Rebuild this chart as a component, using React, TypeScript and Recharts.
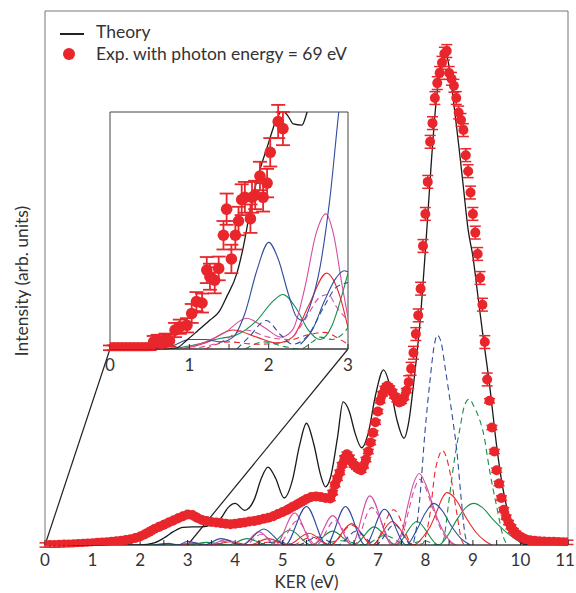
import React from 'react';
import {
  ComposedChart,
  Line,
  Scatter,
  XAxis,
  YAxis,
  ErrorBar,
  ReferenceArea,
  ReferenceLine,
} from 'recharts';

const FONT = 'Lato, "Open Sans", sans-serif';
const BLUE = '#2f4c9e';
const MAGENTA = '#d2509f';
const RED = '#e8262b';
const GREEN = '#13904a';
const DOT = '#e8262b';

// ---- main panel (KER 0-11 eV, intensity in arbitrary units 0-100) ----
const mainTicks = [0, 0.5, 1, 1.5, 2, 2.5, 3, 3.5, 4, 4.5, 5, 5.5, 6, 6.5, 7, 7.5, 8, 8.5, 9, 9.5, 10, 10.5, 11];

const theory = [
  [0, 0], [2.0, 0], [2.3, 0.4], [2.5, 1.3], [2.7, 2.5], [2.9, 3.3], [3.1, 3.4], [3.3, 3.4], [3.5, 3.8],
  [3.7, 5.0], [3.85, 7.0], [4.0, 7.8], [4.2, 6.5], [4.4, 8.5], [4.55, 12.5], [4.69, 14.6], [4.85, 12.5],
  [5.03, 8.8], [5.2, 12], [5.35, 18.5], [5.5, 22.8], [5.65, 19], [5.8, 13], [5.9, 10.9], [6.0, 12.5],
  [6.15, 20], [6.27, 26.8], [6.4, 25], [6.52, 21], [6.66, 18.2], [6.8, 21], [6.95, 28], [7.12, 32.8],
  [7.25, 30], [7.4, 23.5], [7.55, 20], [7.65, 23], [7.75, 30], [7.89, 42], [8.03, 59], [8.12, 71],
  [8.22, 82.4], [8.32, 89.5], [8.4, 92.3], [8.48, 90.5], [8.58, 84], [8.7, 75], [8.8, 67], [8.9, 59],
  [9.0, 54], [9.1, 47], [9.2, 40], [9.35, 30], [9.5, 18.5], [9.6, 12.2], [9.7, 7.5], [9.8, 4], [9.9, 1.8],
  [10.0, 0.5], [10.15, 0], [11, 0],
];

const blueSolid = [
  [2.3, 0], [2.6, 0.3], [2.8, 0], [3.0, 0.7], [3.35, 0], [3.7, 1.2], [4.15, 0], [4.6, 3.0], [5.05, 0],
  [5.5, 7.2], [5.92, 0], [6.32, 7.2], [6.73, 0], [7.14, 6.7], [7.6, 0], [7.8, 2.5], [8.0, 6.0], [8.18, 7.8],
  [8.35, 6.5], [8.55, 3.5], [8.75, 1.2], [8.95, 0],
];
const blueDashed = [
  [4.5, 0], [4.9, 0.6], [5.3, 0], [5.75, 1.5], [6.15, 0], [6.55, 2.6], [6.95, 0], [7.35, 3.8], [7.72, 0],
  [7.8, 2.5], [7.88, 8.4], [7.99, 21], [8.1, 31], [8.18, 37], [8.25, 39.3], [8.33, 38], [8.42, 33],
  [8.52, 27], [8.6, 22], [8.66, 17.8], [8.75, 9], [8.83, 2.2], [8.9, 0],
];
const redSolid = [
  [2.8, 0], [3.2, 0.3], [3.5, 0], [3.9, 0.6], [4.3, 0], [4.7, 1.2], [5.1, 0], [5.55, 2.2], [6.0, 0],
  [6.45, 4.0], [6.88, 0], [7.3, 4.4], [7.75, 0], [7.95, 1.5], [8.1, 3.4], [8.25, 6.5], [8.35, 8.7],
  [8.45, 9.8], [8.55, 9.4], [8.68, 8.0], [8.8, 6.0], [8.95, 3.8], [9.08, 2.2], [9.25, 0.8], [9.4, 0],
];
const redDashed = [
  [4.4, 0], [4.8, 0.6], [5.2, 0], [5.6, 1.5], [6.0, 0], [6.45, 3.7], [6.9, 0], [7.33, 6.6], [7.75, 0],
  [7.95, 0.3], [8.0, 1.5], [8.1, 6], [8.2, 13.5], [8.28, 16.5], [8.36, 17.7], [8.44, 16.5], [8.52, 13.5],
  [8.66, 6], [8.76, 1], [8.82, 0],
];
const magentaSolid = [
  [2.8, 0], [3.1, 0.4], [3.45, 0], [3.8, 1.0], [4.15, 0], [4.5, 2.5], [4.85, 0], [5.25, 6.0], [5.65, 0],
  [6.05, 5.5], [6.45, 0], [6.83, 9.2], [7.3, 0], [7.5, 2.2], [7.62, 7], [7.75, 11.5], [7.87, 13.4],
  [8.0, 11.5], [8.12, 8.5], [8.25, 5], [8.4, 2.2], [8.55, 0.5], [8.65, 0],
];
const magentaDashed = [
  [3.5, 0], [3.85, 0.7], [4.2, 0], [4.55, 2.0], [4.9, 0], [5.3, 4.5], [5.7, 0], [6.1, 4.6], [6.5, 0],
  [6.87, 7.0], [7.35, 0], [7.52, 2.0], [7.65, 6.5], [7.77, 10.5], [7.88, 12.3], [8.0, 10.8], [8.12, 7.8],
  [8.25, 4.5], [8.4, 1.8], [8.55, 0.3], [8.65, 0],
];
const greenSolid = [
  [2.2, 0], [2.6, 0.2], [3.0, 0], [3.4, 0.5], [3.85, 0], [4.25, 1.2], [4.7, 0], [5.15, 2.8], [5.6, 0],
  [6.05, 2.6], [6.5, 0], [6.92, 3.4], [7.38, 0], [7.82, 4.4], [8.28, 0], [8.45, 1.5], [8.66, 4.7],
  [8.85, 7.0], [9.02, 7.8], [9.2, 7.0], [9.43, 4.7], [9.65, 2.8], [9.88, 1.2], [10.05, 0.3], [10.2, 0],
];
const greenDashed = [
  [5.8, 0], [6.25, 0.8], [6.7, 0], [7.15, 1.8], [7.6, 0], [7.95, 0.8], [8.3, 0], [8.38, 0.9], [8.48, 7.2],
  [8.59, 14.7], [8.73, 22], [8.82, 26], [8.92, 27.3], [9.02, 26], [9.12, 24], [9.22, 21], [9.36, 13.5],
  [9.5, 7.2], [9.64, 1.5], [9.72, 0],
];

// experiment, photon energy 69 eV
const expMain = [
  [0, 0], [0.1, 0], [0.2, 0], [0.3, 0.05], [0.4, 0.1], [0.5, 0.1], [0.6, 0.15], [0.7, 0.2], [0.8, 0.25],
  [0.9, 0.3], [1.0, 0.35], [1.1, 0.4], [1.2, 0.45], [1.3, 0.5], [1.4, 0.6], [1.5, 0.7], [1.6, 0.8],
  [1.7, 0.95], [1.8, 1.1], [1.9, 1.3], [2.0, 1.6], [2.1, 2.0], [2.2, 2.5], [2.3, 3.0], [2.4, 3.4],
  [2.5, 3.8], [2.6, 4.2], [2.7, 4.6], [2.8, 5.0], [2.9, 5.4], [3.0, 5.7], [3.1, 5.6], [3.2, 5.1],
  [3.3, 4.7], [3.4, 4.5], [3.5, 4.3], [3.6, 4.2], [3.7, 4.1], [3.8, 4.0], [3.9, 3.9], [4.0, 4.0],
  [4.1, 4.1], [4.2, 4.2], [4.3, 4.4], [4.4, 4.5], [4.5, 4.7], [4.6, 4.9], [4.7, 5.1], [4.8, 5.4],
  [4.9, 5.8], [5.0, 6.2], [5.1, 6.6], [5.2, 7.1], [5.3, 7.6], [5.4, 8.1], [5.5, 8.6], [5.6, 9.0],
  [5.7, 9.1], [5.8, 9.0], [5.9, 8.8], [6.0, 8.7], [6.05, 9.8], [6.1, 11.3], [6.15, 12.5], [6.2, 13.6],
  [6.25, 15.0], [6.3, 16.3], [6.35, 17.0], [6.4, 16.4], [6.45, 15.6], [6.5, 15.0], [6.55, 14.6],
  [6.6, 14.2], [6.65, 14.0], [6.7, 14.8], [6.75, 16.0], [6.8, 17.5], [6.85, 19.2], [6.9, 21.0],
  [6.95, 23.0], [7.0, 25.0], [7.05, 27.0], [7.1, 28.3], [7.15, 29.3], [7.2, 29.8], [7.25, 29.4],
  [7.3, 28.7], [7.35, 27.9], [7.4, 27.2], [7.45, 26.7], [7.5, 26.9], [7.55, 27.6], [7.6, 28.9],
  [7.65, 30.5], [7.7, 33.0], [7.75, 36.0], [7.8, 39.5], [7.85, 43.0], [7.9, 48.0], [7.95, 56.0],
  [8.0, 62.0], [8.05, 68.0], [8.1, 75.5], [8.15, 79.0], [8.2, 83.7], [8.25, 86.5], [8.3, 88.4],
  [8.35, 90.3], [8.4, 92.0], [8.45, 92.5], [8.5, 88.4], [8.55, 87.3], [8.6, 86.0], [8.65, 83.7],
  [8.7, 81.0], [8.75, 79.6], [8.8, 77.7], [8.85, 73.0], [8.9, 70.0], [8.95, 66.0], [9.0, 62.0],
  [9.05, 58.5], [9.1, 54.5], [9.15, 50.0], [9.2, 45.0], [9.25, 38.0], [9.3, 31.0], [9.35, 27.0],
  [9.4, 22.0], [9.45, 17.5], [9.5, 14.0], [9.55, 11.5], [9.6, 8.8], [9.65, 6.6], [9.7, 5.2], [9.75, 4.2],
  [9.8, 3.4], [9.85, 2.7], [9.9, 2.2], [9.95, 1.8], [10.0, 1.5], [10.05, 1.3], [10.1, 1.1], [10.2, 0.9],
  [10.3, 0.8], [10.4, 0.7], [10.5, 0.65], [10.6, 0.6], [10.7, 0.6], [10.8, 0.55], [10.9, 0.5], [11.0, 0.5],
];
// error bars stick out of the dots only on the big peak
const expErrLow = 0.4;
const expErrHigh = 1.2;

// ---- inset (KER 0-3 eV, magnified) ----
const insetTicks = [0, 0.5, 1, 1.5, 2, 2.5, 3];

const insetTheory = [
  [0, 0], [0.6, 0], [0.84, 0.05], [0.97, 0.38], [1.1, 0.75], [1.26, 1.22], [1.38, 1.6], [1.47, 2.2],
  [1.6, 3.2], [1.68, 4.3], [1.77, 5.9], [1.85, 7.1], [1.98, 8.5], [2.1, 9.7], [2.17, 10.05], [2.24, 9.85],
  [2.31, 9.5], [2.42, 9.45], [2.48, 9.95], [2.55, 10.8], [2.7, 13], [3, 16],
];
const insetBlueSolid = [
  [0.6, 0], [0.8, 0.15], [1.0, 0.4], [1.2, 0.4], [1.4, 0.3], [1.55, 0.5], [1.7, 1.5], [1.85, 3.3], [2.0, 4.5],
  [2.12, 3.8], [2.25, 2.3], [2.35, 1.36], [2.43, 1.2], [2.52, 1.8], [2.65, 3.5], [2.77, 6.3], [2.9, 10.5], [3, 13],
];
const insetBlueSolid2 = [[2.4, 0.2], [2.55, 0.8], [2.7, 2.0], [2.85, 3.0], [2.95, 3.3], [3, 3.25]];
const insetBlueDashed = [
  [1.6, 0], [1.75, 0.5], [1.97, 1.2], [2.15, 0.6], [2.3, 0.2], [2.5, 0.6], [2.7, 1.8], [2.85, 2.6], [3, 2.8],
];
const insetMagentaSolid = [
  [0.9, 0], [1.2, 0.3], [1.45, 0.7], [1.72, 1.3], [1.95, 0.9], [2.15, 0.5], [2.3, 0.8], [2.45, 2.5],
  [2.6, 4.9], [2.72, 5.7], [2.82, 4.8], [2.92, 2.8], [3, 1.3],
];
const insetMagentaDashed = [
  [1.0, 0], [1.4, 0.3], [1.7, 0.8], [2.0, 0.5], [2.25, 0.4], [2.45, 1.2], [2.65, 2.2], [2.75, 2.3], [2.85, 1.8], [3, 1.2],
];
const insetRedSolid = [
  [0.9, 0], [1.2, 0.25], [1.55, 0.8], [1.85, 0.5], [2.1, 0.25], [2.3, 0.5], [2.5, 1.8], [2.73, 3.2], [2.9, 2.2], [3, 0.9],
];
const insetRedDashed = [
  [1.2, 0], [1.5, 0.3], [1.85, 0.2], [2.2, 0.3], [2.5, 0.6], [2.7, 0.7], [2.9, 0.4], [3, 0.2],
];
const insetGreenSolid = [
  [0.8, 0], [1.1, 0.2], [1.4, 0.45], [1.6, 0.6], [1.85, 1.2], [2.05, 2.0], [2.18, 2.3], [2.35, 1.7],
  [2.5, 0.8], [2.65, 0.4], [2.8, 1.0], [2.9, 2.0], [3, 3.2],
];
const insetGreenDashed = [
  [1.7, 0], [1.95, 0.3], [2.2, 0.1], [2.4, 0], [2.55, 0.3], [2.65, 0.5], [2.8, 0.4], [2.95, 0.7], [3, 0.9],
];

const insetExpX = [
  0, 0.05, 0.1, 0.15, 0.2, 0.25, 0.3, 0.35, 0.4, 0.45, 0.5, 0.55, 0.6, 0.65, 0.7, 0.75, 0.82, 0.88, 0.97,
  1.03, 1.09, 1.16, 1.22, 1.26, 1.32, 1.37, 1.43, 1.47, 1.53, 1.58, 1.62, 1.66, 1.7, 1.77, 1.79, 1.83,
  1.89, 1.93, 1.98, 2.02, 2.12, 2.18,
];
const insetExpY = [
  0.05, 0.05, 0.05, 0.05, 0.05, 0.05, 0.05, 0.05, 0.05, 0.05, 0.05, 0.3, 0.35, 0.25, 0.4, 0.35, 0.8, 0.94, 1.0,
  1.5, 2.0, 1.94, 3.33, 3.05, 2.9, 3.4, 4.8, 5.9, 3.8, 4.8, 5.4, 6.3, 6.4, 5.5, 6.4, 6.5,
  7.3, 6.4, 7.0, 8.3, 9.6, 9.3,
];
const insetExpErr = [
  0.1, 0.1, 0.1, 0.1, 0.1, 0.1, 0.1, 0.1, 0.1, 0.1, 0.1, 0.25, 0.25, 0.25, 0.25, 0.25, 0.3, 0.3, 0.3,
  0.4, 0.4, 0.4, 0.55, 0.55, 0.55, 0.5, 0.6, 0.66, 0.6, 0.6, 0.6, 0.65, 0.65, 0.6, 0.65, 0.6,
  0.6, 0.6, 0.6, 0.6, 0.7, 0.7,
];

const pts = (arr: number[][]) => arr.map(([x, y]) => ({ x, y }));

const mainExpData = expMain.map(([x, y]) => ({ x, y, err: y > 30 ? expErrHigh : expErrLow }));
const insetExpData = insetExpX.map((x, i) => ({ x, y: insetExpY[i], err: insetExpErr[i] }));

// layout of the two panels (page pixels)
const MAIN_LEFT = 45;
const MAIN_RIGHT = 568;
const MAIN_TOP = 11;
const MAIN_BOTTOM = 545;
const INSET_LEFT = 110;
const INSET_RIGHT = 348;
const INSET_TOP = 112;
const INSET_BOTTOM = 349;

const pxToKer = (px: number) => ((px - MAIN_LEFT) / (MAIN_RIGHT - MAIN_LEFT)) * 11;
const pxToInt = (py: number) => ((MAIN_BOTTOM - py) / (MAIN_BOTTOM - MAIN_TOP)) * 100;
const zoomY = pxToInt(INSET_BOTTOM);

// only whole eV get a label; half-eV marks are bare ticks
const AxisTick = (props: any) => {
  const { x, y, payload } = props;
  const v = payload.value;
  if (!Number.isInteger(v)) return <g />;
  const shift = v === 11 ? -3 : 0;
  return (
    <text x={x + shift} y={y} dy="0.71em" textAnchor="middle" fill="#333" fontSize={17} fontFamily={FONT}>
      {v}
    </text>
  );
};

const dotShape = (r: number) => (props: any) => <circle cx={props.cx} cy={props.cy} r={r} fill={DOT} />;

export default function App() {
  const series = [
    { key: 'gs', data: greenSolid, color: GREEN, dashed: false },
    { key: 'rs', data: redSolid, color: RED, dashed: false },
    { key: 'ms', data: magentaSolid, color: MAGENTA, dashed: false },
    { key: 'bs', data: blueSolid, color: BLUE, dashed: false },
    { key: 'gd', data: greenDashed, color: GREEN, dashed: true },
    { key: 'rd', data: redDashed, color: RED, dashed: true },
    { key: 'md', data: magentaDashed, color: MAGENTA, dashed: true },
    { key: 'bd', data: blueDashed, color: BLUE, dashed: true },
  ];
  const insetSeries = [
    { key: 'igs', data: insetGreenSolid, color: GREEN, dashed: false },
    { key: 'igd', data: insetGreenDashed, color: GREEN, dashed: true },
    { key: 'ird', data: insetRedDashed, color: RED, dashed: true },
    { key: 'irs', data: insetRedSolid, color: RED, dashed: false },
    { key: 'imd', data: insetMagentaDashed, color: MAGENTA, dashed: true },
    { key: 'ims', data: insetMagentaSolid, color: MAGENTA, dashed: false },
    { key: 'ibd', data: insetBlueDashed, color: BLUE, dashed: true },
    { key: 'ibs2', data: insetBlueSolid2, color: BLUE, dashed: false },
    { key: 'ibs', data: insetBlueSolid, color: BLUE, dashed: false },
  ];

  return (
    <div style={{ position: 'absolute', left: 0, top: 0, width: 576, height: 593, background: '#fff', fontFamily: FONT }}>
      <ComposedChart width={576} height={593} margin={{ top: MAIN_TOP, right: 576 - MAIN_RIGHT, bottom: 0, left: MAIN_LEFT }}>
        <XAxis
          type="number"
          dataKey="x"
          domain={[0, 11]}
          ticks={mainTicks}
          allowDataOverflow
          height={593 - MAIN_BOTTOM}
          tickSize={-5}
          tickMargin={14}
          stroke="#222"
          tick={<AxisTick />}
          label={{ value: 'KER (eV)', position: 'insideBottom', offset: 5, fill: '#333', fontSize: 17, fontFamily: FONT }}
        />
        <YAxis type="number" dataKey="y" domain={[0, 100]} allowDataOverflow hide />
        <ReferenceArea x1={0} x2={11} y1={0} y2={100} fill="none" stroke="#777" strokeWidth={1} />
        <ReferenceLine segment={[{ x: 0, y: 0 }, { x: pxToKer(INSET_LEFT), y: zoomY }]} stroke="#222" strokeWidth={1.2} ifOverflow="visible" />
        <ReferenceLine segment={[{ x: 3, y: 0 }, { x: pxToKer(INSET_RIGHT), y: zoomY }]} stroke="#222" strokeWidth={1.2} ifOverflow="visible" />
        {series.map((s) => (
          <Line
            key={s.key}
            data={pts(s.data)}
            dataKey="y"
            type="monotone"
            stroke={s.color}
            strokeWidth={1.1}
            strokeDasharray={s.dashed ? '6 4' : undefined}
            dot={false}
            activeDot={false}
            isAnimationActive={false}
          />
        ))}
        <Line data={pts(theory)} dataKey="y" type="monotone" stroke="#1a1a1a" strokeWidth={1.3} dot={false} activeDot={false} isAnimationActive={false} />
        <Scatter data={mainExpData} dataKey="y" fill={DOT} shape={dotShape(5)} isAnimationActive={false}>
          <ErrorBar dataKey="err" direction="y" width={5.5} stroke={DOT} strokeWidth={1.5} />
        </Scatter>
      </ComposedChart>

      <div style={{ position: 'absolute', left: INSET_LEFT - 12, top: INSET_TOP - 12 }}>
        <ComposedChart width={INSET_RIGHT - INSET_LEFT + 24} height={290} margin={{ top: 12, right: 12, bottom: 0, left: 12 }}>
          <XAxis
            type="number"
            dataKey="x"
            domain={[0, 3]}
            ticks={insetTicks}
            allowDataOverflow
            height={290 - 12 - (INSET_BOTTOM - INSET_TOP)}
            tickSize={-5}
            tickMargin={15}
            stroke="#333"
            tick={<AxisTick />}
          />
          <YAxis type="number" dataKey="y" domain={[0, 10]} allowDataOverflow hide />
          <ReferenceArea x1={0} x2={3} y1={0} y2={10} fill="#fff" fillOpacity={1} stroke="#444" strokeWidth={1} />
          {insetSeries.map((s) => (
            <Line
              key={s.key}
              data={pts(s.data)}
              dataKey="y"
              type="monotone"
              stroke={s.color}
              strokeWidth={1.1}
              strokeDasharray={s.dashed ? '6 4' : undefined}
              dot={false}
              activeDot={false}
              isAnimationActive={false}
            />
          ))}
          <Line data={pts(insetTheory)} dataKey="y" type="monotone" stroke="#1a1a1a" strokeWidth={1.3} dot={false} activeDot={false} isAnimationActive={false} />
          <Scatter data={insetExpData} dataKey="y" fill={DOT} shape={dotShape(5.8)} isAnimationActive={false}>
            <ErrorBar dataKey="err" direction="y" width={7} stroke={DOT} strokeWidth={1.8} />
          </Scatter>
        </ComposedChart>
      </div>

      <div
        style={{
          position: 'absolute',
          left: 21,
          top: 281,
          transform: 'translate(-50%, -50%) rotate(-90deg)',
          whiteSpace: 'nowrap',
          fontSize: 17.5,
          color: '#333',
        }}
      >
        Intensity (arb. units)
      </div>

      <div style={{ position: 'absolute', left: 60, top: 33, width: 24, height: 1.5, background: '#222' }} />
      <div style={{ position: 'absolute', left: 96, top: 21, fontSize: 17.5, color: '#333', whiteSpace: 'nowrap' }}>Theory</div>
      <div style={{ position: 'absolute', left: 63, top: 48, width: 12, height: 12, borderRadius: 6, background: DOT }} />
      <div style={{ position: 'absolute', left: 96, top: 43, fontSize: 17.5, color: '#333', whiteSpace: 'nowrap' }}>
        Exp. with photon energy = 69 eV
      </div>
    </div>
  );
}
